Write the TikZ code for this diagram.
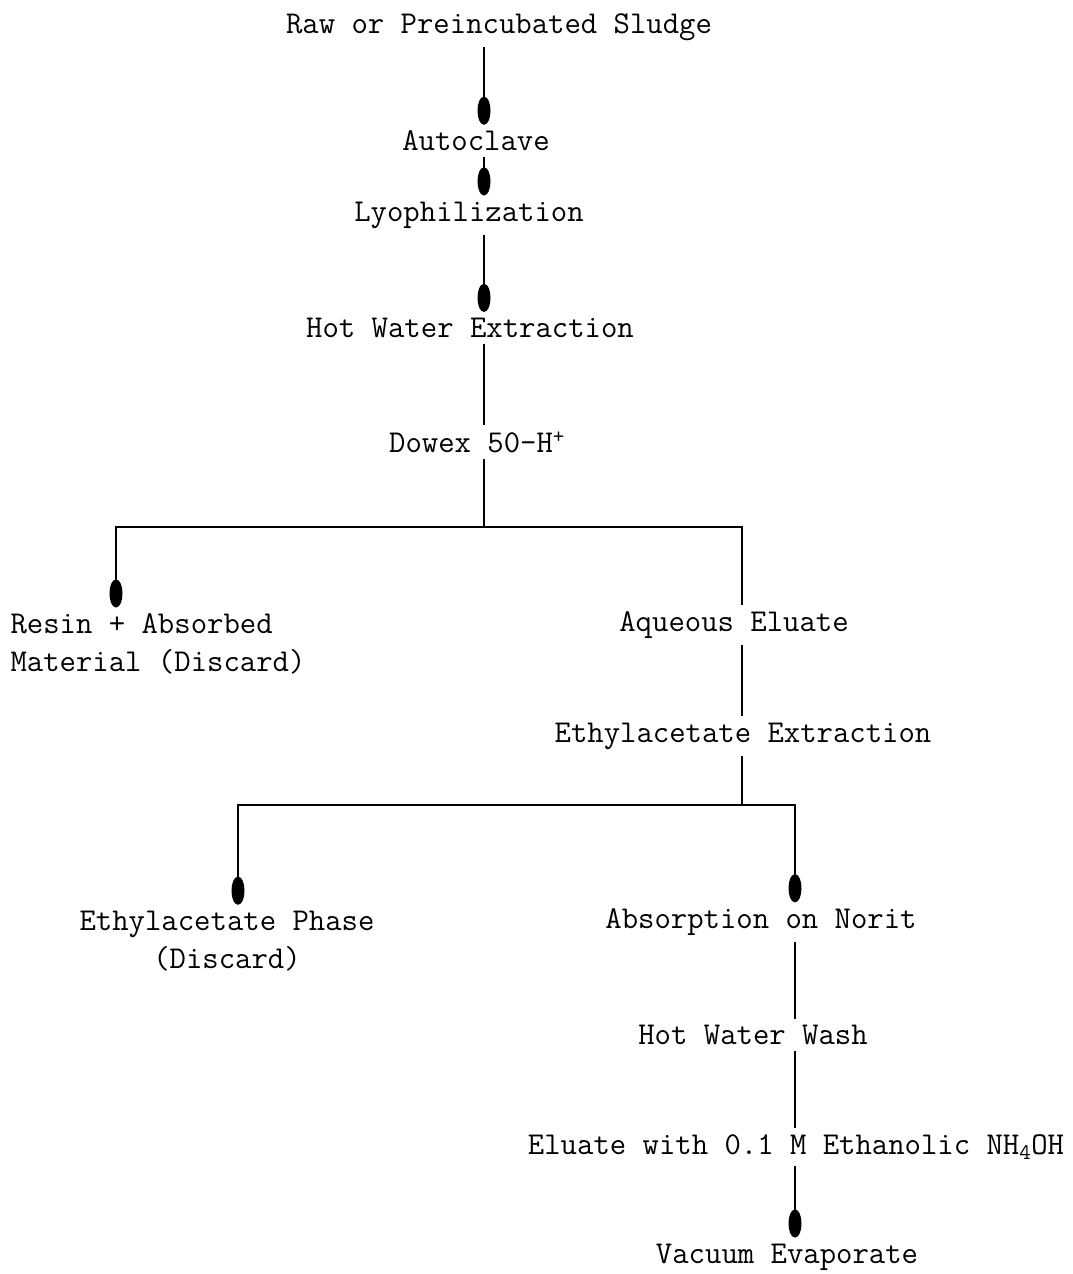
\documentclass[tikz,border=0pt]{standalone}
\usepackage{fontspec}
\usetikzlibrary{arrows.meta}

\begin{document}
\begin{tikzpicture}[x=1pt,y=-1pt,
  every node/.style={font=\fontsize{31.8}{38}\selectfont\ttfamily, inner sep=5pt},
  line width=2.6pt, >={Ellipse[length=28pt,width=13pt]}]
  \useasboundingbox (0,0) rectangle (1072,1274);
  \node (sludge) at (499,27) {Raw or Preincubated Sludge};
  \node (autoclave) at (476,141) {Autoclave};
  \node (lyo) at (469,215) {Lyophilization};
  \node (hotwater) at (470,328) {Hot Water Extraction};
  \node (dowex) at (477,442) {Dowex 50-H\textsuperscript{+}};
  \node[align=left] (resin) at (158,644) {Resin + Absorbed\\Material (Discard)};
  \node (aqueous) at (734,625) {Aqueous Eluate};
  \node (ethyl) at (743,736) {Ethylacetate Extraction};
  \node[align=center] (phase) at (227,941) {Ethylacetate Phase\\(Discard)};
  \node (norit) at (761,922) {Absorption on Norit};
  \node (wash) at (753,1035) {Hot Water Wash};
  \node (ammonia) at (796,1147) {Eluate with 0.1 M Ethanolic NH\textsubscript{4}OH};
  \node (vacuum) at (787,1257) {Vacuum Evaporate};
  % junctions
  \coordinate (j1) at (484,527);
  \coordinate (jl) at (116,527);
  \coordinate (jr) at (742,527);
  \coordinate (j2) at (742,805);
  \coordinate (jl2) at (238,805);
  \coordinate (jr2) at (795,805);
  \path[->]
  (sludge.south -| j1) edge (autoclave.north -| j1)
  (autoclave.south -| j1) edge (lyo.north -| j1)
  (lyo.south -| j1) edge (hotwater.north -| j1);
  \path
  (hotwater.south -| j1) edge (dowex.north -| j1)
  (dowex.south -| j1) edge (j1);
  \draw[line cap=rect] (jl) -- (jr);
  \path[->] (jl) edge (resin.north -| jl);
  \path
  (jr) edge (aqueous.north -| jr)
  (aqueous.south -| jr) edge (ethyl.north -| jr)
  (ethyl.south -| j2) edge (j2);
  \draw[line cap=rect] (jl2) -- (jr2);
  \path[->]
  (jl2) edge (phase.north -| jl2)
  (jr2) edge (norit.north -| jr2);
  \path
  (norit.south -| jr2) edge (wash.north -| jr2)
  (wash.south -| jr2) edge (ammonia.north -| jr2);
  \path[->] (ammonia.south -| jr2) edge (vacuum.north -| jr2);
\end{tikzpicture}
\end{document}
